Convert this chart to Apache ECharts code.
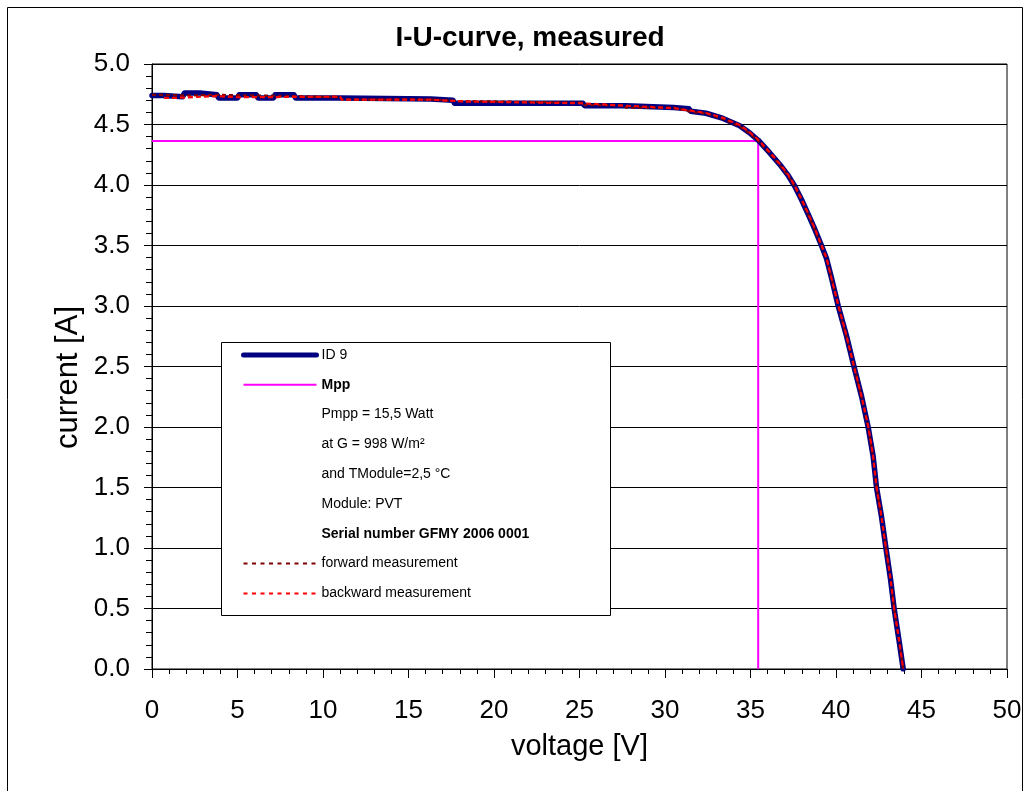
<!DOCTYPE html>
<html>
<head>
<meta charset="utf-8">
<title>I-U-curve, measured</title>
<script src="https://cdn.jsdelivr.net/npm/echarts@6/dist/echarts.min.js"></script>
<style>
  html, body { margin: 0; padding: 0; background: #fff; }
  #chart { width: 1027px; height: 791px; }
</style>
</head>
<body>
<div id="chart"></div>
<script>
// Voltages of the knee and the steep part, shared by the three sweeps (V)
const kneeVoltage = [31.5, 32.4, 33.4, 34.37, 34.96, 35.45, 36.13, 36.71, 37.2, 37.59,
  37.98, 38.37, 38.76, 39.15, 39.45, 39.74, 40.13, 40.62, 41.05, 41.5,
  41.88, 42.17, 42.37, 42.66, 42.92, 43.19, 43.4, 43.68, 43.93];

// Module ID 9: combined I-U characteristic (voltage in V, current in A)
const id9Voltage = [0, 0.7, 0.8, 1.8, 1.9, 2.8, 2.9, 3.8, 3.9, 5.0,
  5.1, 6.1, 6.2, 7.1, 7.2, 8.3, 8.4, 11.0, 11.1, 16.3,
  16.4, 17.6, 17.7, 25.2, 25.3, 27.7, 27.8, 30.5, 30.6, 31.4, ...kneeVoltage];
const id9Current = [4.74, 4.74, 4.73, 4.73, 4.76, 4.76, 4.745, 4.745, 4.72, 4.72,
  4.745, 4.745, 4.72, 4.72, 4.745, 4.745, 4.72, 4.72, 4.71, 4.71,
  4.70, 4.70, 4.675, 4.675, 4.655, 4.655, 4.64, 4.64, 4.63, 4.63,
  4.61, 4.593, 4.55, 4.49, 4.43, 4.37, 4.265, 4.17, 4.08, 3.99,
  3.88, 3.76, 3.635, 3.50, 3.39, 3.23, 3.00, 2.75, 2.50, 2.25,
  2.00, 1.76, 1.50, 1.26, 1.00, 0.74, 0.50, 0.24, 0.00];

// Forward sweep
const forwardVoltage = [0, 0.8, 0.9, 2.0, 2.1, 3.8, 3.9, 8.3, 8.4, 11.0,
  11.1, 16.5, 16.6, 17.6, 17.7, 25.2, 25.3, 27.6, 27.7, 30.5, ...kneeVoltage];
const forwardCurrent = [4.745, 4.745, 4.74, 4.74, 4.745, 4.745, 4.735, 4.735, 4.725, 4.725,
  4.705, 4.705, 4.695, 4.695, 4.68, 4.68, 4.66, 4.66, 4.64, 4.64,
  4.605, 4.59, 4.545, 4.485, 4.425, 4.365, 4.26, 4.165, 4.075, 3.985,
  3.875, 3.755, 3.63, 3.49, 3.385, 3.235, 3.00, 2.74, 2.51, 2.24,
  2.00, 1.75, 1.51, 1.25, 1.00, 0.75, 0.50, 0.24, 0.00];

// Backward sweep
const backwardVoltage = [0.7, 1.4, 1.5, 3.8, 3.9, 5.0, 5.1, 11.0, 11.1, 16.3,
  16.4, 18.3, 18.4, 25.2, 25.3, 27.7, 27.8, 30.5, ...kneeVoltage];
const backwardCurrent = [4.72, 4.72, 4.735, 4.735, 4.725, 4.725, 4.735, 4.73, 4.705, 4.705,
  4.69, 4.69, 4.675, 4.675, 4.66, 4.655, 4.64, 4.635,
  4.615, 4.595, 4.555, 4.495, 4.435, 4.375, 4.27, 4.175, 4.085, 3.995,
  3.885, 3.765, 3.64, 3.505, 3.395, 3.225, 3.01, 2.75, 2.50, 2.25,
  2.01, 1.76, 1.50, 1.26, 1.00, 0.74, 0.50, 0.25, 0.00];

// Maximum power point: Umpp = 35.45 V, Impp = 4.363 A
const mppVoltage = [0, 35.45, 35.45];
const mppCurrent = [4.363, 4.363, 0];

// Legend lines
const infoLines = ['Pmpp = 15,5 Watt', 'at G = 998 W/m²', 'and TModule=2,5 °C',
  'Module: PVT', 'Serial number GFMY 2006 0001'];
const boldLines = ['Mpp', 'Serial number GFMY 2006 0001'];

const FONT = '"Liberation Sans", Arial, Helvetica, sans-serif';
const pairs = (xs, ys) => xs.map((x, i) => [x, ys[i]]);

const chart = echarts.init(document.getElementById('chart'), null, { renderer: 'canvas' });

const noSymbol = { opacity: 0 };

const option = {
  animation: false,
  backgroundColor: '#fff',
  title: {
    text: 'I-U-curve, measured',
    left: 530,
    top: 24,
    padding: 0,
    textAlign: 'center',
    textStyle: { fontFamily: FONT, fontSize: 28, fontWeight: 'bold', color: '#000' }
  },
  grid: {
    left: 152, top: 64, right: 20, bottom: 122,
    show: true, borderColor: '#000', borderWidth: 1, backgroundColor: '#fff',
    outerBoundsMode: 'none'
  },
  xAxis: {
    type: 'value', min: 0, max: 50, interval: 5,
    name: 'voltage [V]', nameLocation: 'middle', nameGap: 63,
    nameMoveOverlap: false,
    nameTextStyle: { fontFamily: FONT, fontSize: 29, color: '#000' },
    axisLine: { show: true, onZero: false, lineStyle: { color: '#000', width: 1 } },
    axisTick: { show: true, length: 9, lineStyle: { color: '#000', width: 1 } },
    minorTick: { show: true, splitNumber: 5, length: 5, lineStyle: { color: '#000', width: 1 } },
    splitLine: { show: false },
    axisLabel: { fontFamily: FONT, fontSize: 26, color: '#000', margin: 29 }
  },
  yAxis: {
    type: 'value', min: 0, max: 5, interval: 0.5,
    name: 'current [A]', nameLocation: 'middle', nameGap: 68,
    nameMoveOverlap: false,
    nameTextStyle: { fontFamily: FONT, fontSize: 31, color: '#000', padding: [0, 22, 0, 0] },
    axisLine: { show: true, onZero: false, lineStyle: { color: '#000', width: 1 } },
    axisTick: { show: true, length: 8, lineStyle: { color: '#000', width: 1 } },
    minorTick: { show: true, splitNumber: 5, length: 6, lineStyle: { color: '#000', width: 1 } },
    splitLine: { show: true, lineStyle: { color: '#000', width: 1 } },
    axisLabel: { fontFamily: FONT, fontSize: 26, color: '#000', margin: 22,
      formatter: v => v.toFixed(1) }
  },
  legend: {
    orient: 'vertical',
    left: 221, top: 342,
    padding: [6, 0, 0, 20],
    itemWidth: 73, itemHeight: 14, itemGap: 15.8,
    selectedMode: false,
    textStyle: {
      fontFamily: FONT, fontSize: 14, color: '#000', lineHeight: 14,
      rich: { b: { fontFamily: FONT, fontSize: 14, fontWeight: 'bold', color: '#000', lineHeight: 14 } }
    },
    formatter: name => boldLines.includes(name) ? '{b|' + name + '}' : name,
    data: [
      { name: 'ID 9', itemStyle: noSymbol, lineStyle: { color: '#000080', width: 5, cap: 'round' } },
      { name: 'Mpp', itemStyle: noSymbol, lineStyle: { color: '#FF00FF', width: 2 } },
      ...infoLines.map(n => ({ name: n, itemStyle: noSymbol, lineStyle: { opacity: 0 } })),
      { name: 'forward measurement', itemStyle: noSymbol,
        lineStyle: { color: '#800000', width: 2, type: [4, 4.5] } },
      { name: 'backward measurement', itemStyle: noSymbol,
        lineStyle: { color: '#FF0000', width: 2, type: [4, 4.5] } }
    ]
  },
  graphic: [
    { type: 'rect', z: 3, shape: { x: 221.5, y: 342.5, width: 389, height: 273 },
      style: { fill: '#fff', stroke: '#000', lineWidth: 1 } },
    { type: 'rect', z: 0, silent: true, shape: { x: 7.5, y: 7.5, width: 1015, height: 800 },
      style: { fill: 'none', stroke: '#000', lineWidth: 1 } }
  ],
  series: [
    {
      name: 'Mpp', type: 'line', symbol: 'none', z: 2,
      lineStyle: { color: '#FF00FF', width: 2 },
      data: pairs(mppVoltage, mppCurrent)
    },
    {
      name: 'ID 9', type: 'line', symbol: 'none', z: 2,
      lineStyle: { color: '#000080', width: 5.5, cap: 'round', join: 'round' },
      data: pairs(id9Voltage, id9Current)
    },
    {
      name: 'forward measurement', type: 'line', symbol: 'none', z: 2,
      lineStyle: { color: '#800000', width: 2.2, type: [4, 3] },
      data: pairs(forwardVoltage, forwardCurrent)
    },
    {
      name: 'backward measurement', type: 'line', symbol: 'none', z: 2,
      lineStyle: { color: '#FF0000', width: 2.2, type: [5, 3] },
      data: pairs(backwardVoltage, backwardCurrent)
    },
    ...infoLines.map(n => ({
      name: n, type: 'line', symbol: 'none', data: [],
      lineStyle: { opacity: 0 }, itemStyle: { opacity: 0 }
    }))
  ]
};

chart.setOption(option);
</script>
</body>
</html>
